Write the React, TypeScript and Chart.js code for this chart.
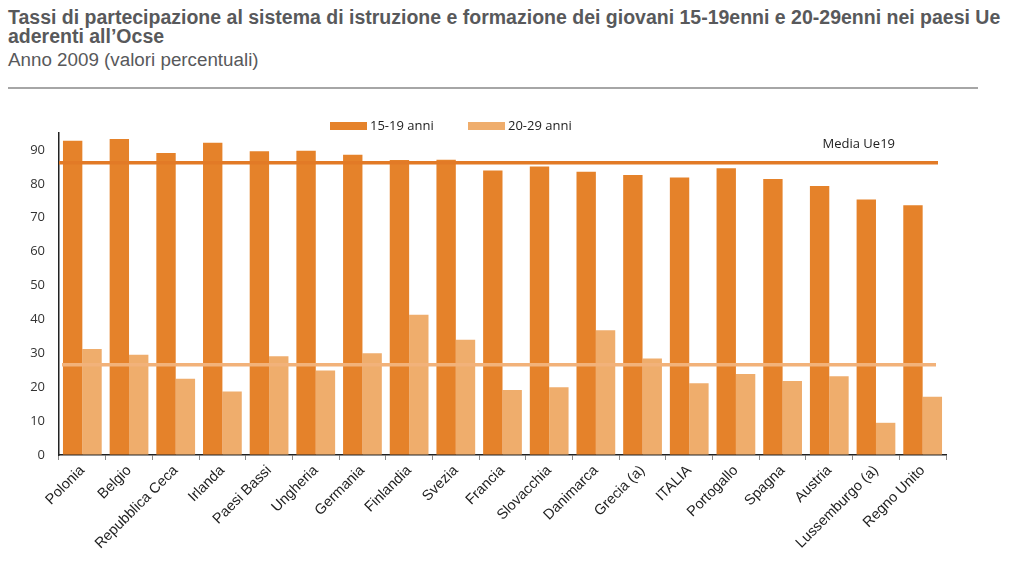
import React, { useEffect, useRef } from "react";
import { Chart, registerables } from "chart.js";

Chart.register(...registerables);

const categories = [
  "Polonia", "Belgio", "Repubblica Ceca", "Irlanda", "Paesi Bassi", "Ungheria",
  "Germania", "Finlandia", "Svezia", "Francia", "Slovacchia", "Danimarca",
  "Grecia (a)", "ITALIA", "Portogallo", "Spagna", "Austria", "Lussemburgo (a)", "Regno Unito",
];
const series1519 = [92.7, 93.2, 89.1, 92.1, 89.6, 89.8, 88.6, 87.0, 87.1, 83.9, 85.1, 83.6, 82.6, 81.9, 84.6, 81.4, 79.4, 75.4, 73.7];
const series2029 = [31.3, 29.6, 22.5, 18.7, 29.1, 24.9, 30.0, 41.4, 34.0, 19.2, 20.0, 36.8, 28.5, 21.2, 23.9, 21.8, 23.2, 9.5, 17.2];
const seriesLabels = ["15-19 anni", "20-29 anni"];
const mean1519 = 86.2;
const mean2029 = 26.6;
const meanLabel = "Media Ue19";
const yTicks = [0, 10, 20, 30, 40, 50, 60, 70, 80, 90];

const DARK = "#E5822A";
const LIGHT = "#EFAD6C";
const DARK_LINE = "#E27A26";
const LIGHT_LINE = "#F2B27A";

const overlayPlugin = {
  id: "overlay",
  afterDatasetsDraw(chart: any) {
    const { ctx, chartArea, scales } = chart;
    const y = scales.y;
    ctx.save();
    // mean lines
    ctx.lineWidth = 3.5;
    ctx.strokeStyle = LIGHT_LINE;
    const yl = y.getPixelForValue(mean2029);
    ctx.beginPath();
    ctx.moveTo(chartArea.left + 3, yl);
    ctx.lineTo(chartArea.right - 10, yl);
    ctx.stroke();
    ctx.strokeStyle = DARK_LINE;
    const yd = y.getPixelForValue(mean1519);
    ctx.beginPath();
    ctx.moveTo(chartArea.left, yd);
    ctx.lineTo(chartArea.right - 8, yd);
    ctx.stroke();
    // label
    ctx.fillStyle = "#222";
    ctx.font = "13px 'Open Sans', sans-serif";
    ctx.textAlign = "right";
    ctx.textBaseline = "middle";
    ctx.fillText(meanLabel, chartArea.right - 51, yd - 19);
    // legend
    const ly = chartArea.top - 7;
    const items = [
      { x: chartArea.left + 271, color: DARK, text: seriesLabels[0] },
      { x: chartArea.left + 409, color: LIGHT, text: seriesLabels[1] },
    ];
    ctx.textAlign = "left";
    for (const it of items) {
      ctx.fillStyle = it.color;
      ctx.fillRect(it.x, ly - 4, 37, 8);
      ctx.fillStyle = "#222";
      ctx.fillText(it.text, it.x + 40, ly);
    }
    ctx.restore();
  },
};

export default function App() {
  const ref = useRef<HTMLCanvasElement | null>(null);
  useEffect(() => {
    if (!ref.current) return;
    const chart = new Chart(ref.current, {
      type: "bar",
      data: {
        labels: categories,
        datasets: [
          { label: seriesLabels[0], data: series1519, backgroundColor: DARK, categoryPercentage: 0.83, barPercentage: 1 },
          { label: seriesLabels[1], data: series2029, backgroundColor: LIGHT, categoryPercentage: 0.83, barPercentage: 1 },
        ],
      },
      options: {
        animation: false,
        responsive: false,
        maintainAspectRatio: false,
        layout: { padding: { top: 38, right: 77, left: 0, bottom: 0 } },
        plugins: { legend: { display: false }, title: { display: false }, tooltip: { enabled: false } },
        scales: {
          x: {
            grid: { display: true, drawOnChartArea: false, drawTicks: true, tickLength: 5, color: "#8a8a8a", offset: true },
            border: { display: true, color: "#222", width: 1.5 },
            ticks: {
              autoSkip: false,
              maxRotation: 45,
              minRotation: 45,
              color: "#222",
              padding: 2,
              font: { family: "'Liberation Sans', Arial, sans-serif", size: 14.5 },
            },
            afterFit: (s: any) => { s.height = 123; },
          },
          y: {
            min: 0,
            max: 95,
            afterBuildTicks: (s: any) => { s.ticks = yTicks.map((v) => ({ value: v })); },
            grid: { display: true, drawOnChartArea: false, drawTicks: false },
            border: { display: true, color: "#222", width: 1.5 },
            ticks: {
              color: "#333",
              padding: 14,
              font: { family: "'Open Sans', sans-serif", size: 13 },
            },
            afterFit: (s: any) => { s.width = 59; },
          },
        },
      },
      plugins: [overlayPlugin],
    });
    return () => chart.destroy();
  }, []);

  return (
    <div style={{ position: "fixed", left: 0, top: 0, width: 1023, height: 578, background: "#fff", overflow: "hidden" }}>
      <div style={{ position: "absolute", left: 8, top: 8, width: 1012, color: "#58595b", fontFamily: "'Liberation Sans Narrow', 'Arial Narrow', 'Liberation Sans', sans-serif", fontWeight: "bold", fontSize: 19.5, lineHeight: "19px" }}>
        Tassi di partecipazione al sistema di istruzione e formazione dei giovani 15-19enni e 20-29enni nei paesi Ue aderenti all’Ocse
      </div>
      <div style={{ position: "absolute", left: 8, top: 50, color: "#58595b", fontFamily: "'Liberation Sans Narrow', 'Arial Narrow', 'Liberation Sans', sans-serif", fontSize: 18.8, lineHeight: "20px" }}>
        Anno 2009 (valori percentuali)
      </div>
      <div style={{ position: "absolute", left: 8, top: 87, width: 970, height: 2, background: "#a6a6a6" }} />
      <canvas ref={ref} width={1023} height={483} style={{ position: "absolute", left: 0, top: 95, width: 1023, height: 483 }} />
    </div>
  );
}
